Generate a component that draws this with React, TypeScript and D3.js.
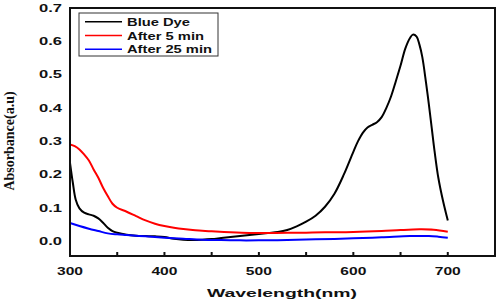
import React from "react";
import * as d3 from "d3";

const wlDye = [300, 303, 306, 310, 315, 320, 325, 330, 335, 340, 345, 350, 360, 370, 380, 390, 400, 410, 420, 430, 440, 450, 460, 470, 480, 490, 500, 510, 520, 530, 540, 550, 560, 570, 580, 590, 600, 605, 610, 615, 620, 625, 630, 635, 640, 645, 650, 655, 660, 663, 667, 670, 673, 677, 680, 683, 686, 690, 695, 700];
const absDye = [0.235, 0.175, 0.125, 0.098, 0.085, 0.08, 0.076, 0.068, 0.055, 0.04, 0.03, 0.025, 0.019, 0.016, 0.015, 0.014, 0.012, 0.007, 0.004, 0.003, 0.004, 0.006, 0.009, 0.012, 0.015, 0.018, 0.021, 0.024, 0.027, 0.033, 0.044, 0.058, 0.076, 0.103, 0.142, 0.2, 0.268, 0.3, 0.325, 0.341, 0.349, 0.357, 0.372, 0.4, 0.435, 0.48, 0.527, 0.578, 0.61, 0.62, 0.614, 0.59, 0.553, 0.475, 0.41, 0.34, 0.27, 0.19, 0.12, 0.062];

const wl5 = [300, 305, 310, 315, 320, 325, 330, 335, 340, 345, 350, 360, 370, 380, 390, 400, 410, 420, 430, 440, 450, 470, 490, 510, 530, 550, 570, 600, 630, 650, 670, 685, 700];
const abs5 = [0.29, 0.285, 0.275, 0.26, 0.242, 0.215, 0.19, 0.16, 0.135, 0.112, 0.1, 0.088, 0.075, 0.062, 0.052, 0.045, 0.04, 0.036, 0.033, 0.031, 0.029, 0.026, 0.024, 0.024, 0.025, 0.025, 0.026, 0.027, 0.03, 0.033, 0.035, 0.034, 0.028];

const wl25 = [300, 310, 320, 330, 340, 350, 360, 380, 400, 420, 440, 460, 480, 500, 530, 560, 600, 630, 660, 680, 690, 700];
const abs25 = [0.054, 0.045, 0.037, 0.03, 0.023, 0.02, 0.018, 0.014, 0.01, 0.007, 0.004, 0.003, 0.002, 0.002, 0.003, 0.005, 0.008, 0.011, 0.015, 0.015, 0.013, 0.01];

const seriesNames = ["Blue Dye", "After 5 min", "After 25 min"];
const seriesColors = ["#000000", "#ff0000", "#0000ff"];
const xTicks = [300, 400, 500, 600, 700];
const xMinorTicks = [350, 450, 550, 650, 750];
const yTicks = [0.0, 0.1, 0.2, 0.3, 0.4, 0.5, 0.6, 0.7];

const W = 498, H = 303;
const L = 70, R = 495, T = 8, B = 256;

export default function App() {
  const x = d3.scaleLinear().domain([300, 750]).range([L, R]);
  const y = d3.scaleLinear().domain([-0.045, 0.7]).range([B, T]);
  const line = d3
    .line<[number, number]>()
    .x((d) => x(d[0]))
    .y((d) => y(d[1]))
    .curve(d3.curveCatmullRom.alpha(0.5));
  const series = [
    wlDye.map((w, i) => [w, absDye[i]] as [number, number]),
    wl5.map((w, i) => [w, abs5[i]] as [number, number]),
    wl25.map((w, i) => [w, abs25[i]] as [number, number]),
  ];
  const legendW = [63, 77, 85];
  const font = "'Liberation Sans', Arial, sans-serif";
  return (
    <svg width={W} height={H} style={{ position: "absolute", left: 0, top: 0, background: "#fff" }}>
      <rect x={0} y={0} width={W} height={H} fill="#fff" />
      {series.map((s, i) => (
        <path key={i} d={line(s) || ""} fill="none" stroke={seriesColors[i]} strokeWidth={2} strokeLinejoin="round" />
      ))}
      {/* frame */}
      <rect x={L} y={T} width={R - L} height={B - T} fill="none" stroke="#111" strokeWidth={2} />
      {/* x ticks */}
      {[...xTicks, ...xMinorTicks].map((t) => (
        <line key={"t" + t} x1={x(t)} x2={x(t)} y1={B} y2={B - 4} stroke="#111" strokeWidth={2} />
      ))}
      {xTicks.map((t) => (
        <text key={"xl" + t} x={x(t)} y={275} textAnchor="middle" fontFamily={font} fontWeight="bold" fontSize={11} fill="#111" textLength={26} lengthAdjust="spacingAndGlyphs">
          {t}
        </text>
      ))}
      {yTicks.map((t) => (
        <text key={"yl" + t} x={62} y={y(t) + 3.8} textAnchor="end" fontFamily={font} fontWeight="bold" fontSize={10.5} fill="#111" textLength={23} lengthAdjust="spacingAndGlyphs">
          {t.toFixed(1)}
        </text>
      ))}
      <text x={282} y={297} textAnchor="middle" fontFamily={font} fontWeight="bold" fontSize={11.5} fill="#111" textLength={150} lengthAdjust="spacingAndGlyphs">
        Wavelength(nm)
      </text>
      <text transform="translate(14,141) rotate(-90)" textAnchor="middle" fontFamily="'Liberation Serif', 'Times New Roman', serif" fontWeight="bold" fontSize={14} fill="#111">
        Absorbance(a.u)
      </text>
      {/* legend */}
      <rect x={79} y={13} width={139} height={43} fill="#fff" stroke="#333" strokeWidth={1} />
      {seriesNames.map((n, i) => {
        const ly = 21.7 + i * 13.8;
        return (
          <g key={n}>
            <line x1={85} x2={122} y1={ly} y2={ly} stroke={seriesColors[i]} strokeWidth={1.5} />
            <text x={127} y={ly + 4} fontFamily={font} fontWeight="bold" fontSize={11} fill="#111" textLength={legendW[i]} lengthAdjust="spacingAndGlyphs">
              {n}
            </text>
          </g>
        );
      })}
    </svg>
  );
}
